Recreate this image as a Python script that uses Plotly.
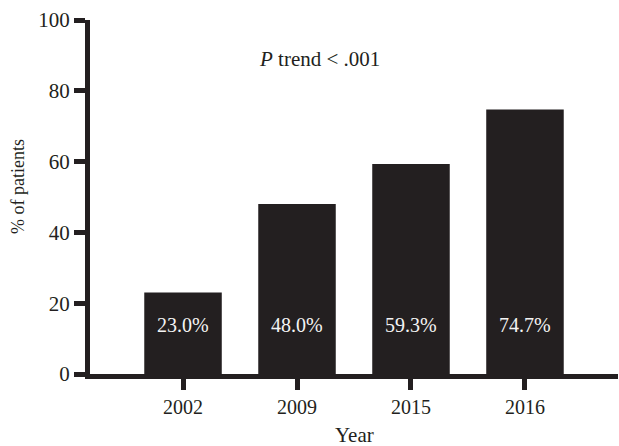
import plotly.graph_objects as go

years = ["2002", "2009", "2015", "2016"]
percent = [23.0, 48.0, 59.3, 74.7]
labels = ["23.0%", "48.0%", "59.3%", "74.7%"]
y_ticks = [0, 20, 40, 60, 80, 100]

FONT = "Liberation Serif"
INK = "#231f20"
W, H = 619, 446
L, R, T, B = 90, 1, 20, 72

fig = go.Figure()
fig.add_trace(go.Bar(x=years, y=percent, marker=dict(color=INK, line=dict(width=0)),
                     hoverinfo="skip"))

for i, lab in enumerate(labels):
    fig.add_annotation(x=i, y=13.8, xref="x", yref="y", text=lab, showarrow=False,
                       xanchor="center", yanchor="middle",
                       font=dict(family=FONT, size=20, color="#f4f4f4"))

fig.add_annotation(x=1.2, y=89, text="<i>P</i> trend < .001", showarrow=False,
                   xanchor="center", yanchor="middle",
                   font=dict(family=FONT, size=21, color=INK))

# axis titles
fig.add_annotation(xref="paper", yref="paper", x=(354 - L) / (W - L - R),
                   y=-(435 - (H - B)) / (H - T - B), text="Year", showarrow=False,
                   xanchor="center", yanchor="middle",
                   font=dict(family=FONT, size=21, color=INK))
fig.add_annotation(xref="paper", yref="paper", x=-(L - 18) / (W - L - R),
                   y=(H - B - 187) / (H - T - B), text="% of patients", showarrow=False,
                   xanchor="center", yanchor="middle",
                   textangle=-90, font=dict(family=FONT, size=18, color=INK))

fig.update_layout(
    width=W, height=H,
    margin=dict(l=L, r=R, t=T, b=B, autoexpand=False),
    paper_bgcolor="white", plot_bgcolor="white",
    bargap=0.32, showlegend=False, hovermode=False,
    font=dict(family=FONT, size=20, color=INK),
)
fig.update_xaxes(
    type="category", range=[-0.816, 3.816], automargin=False,
    showline=True, linecolor=INK, linewidth=5,
    ticks="outside", ticklen=11, tickwidth=5, tickcolor=INK,
    showgrid=False, zeroline=False,
    tickfont=dict(family=FONT, size=20),
)
fig.update_yaxes(
    range=[0, 100], tickvals=y_ticks, automargin=False,
    showline=True, linecolor=INK, linewidth=5,
    ticks="outside", ticklen=11, tickwidth=5, tickcolor=INK,
    showgrid=False, zeroline=False,
    tickfont=dict(family=FONT, size=21),
)

fig.write_html("out.html", config={"displayModeBar": False},
               post_script="document.body.style.margin='0';")
